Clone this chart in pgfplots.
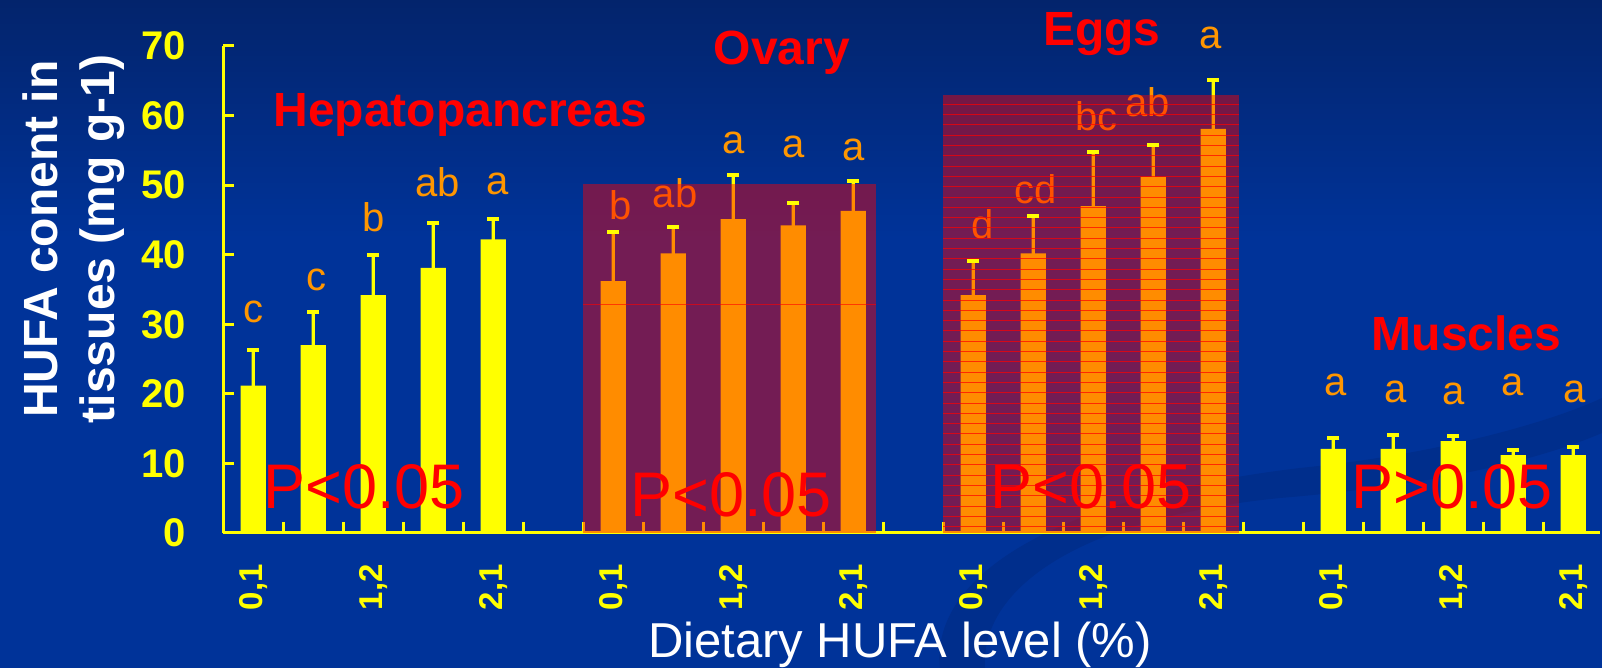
\documentclass[border=0pt]{standalone}
\usepackage{pgfplots}
\pgfplotsset{compat=1.18}
\usepackage{pgfplotstable}
\usepackage{fontspec}
\setmainfont{Liberation Sans}

\definecolor{bgtop}{RGB}{3,36,108}
\definecolor{bgbot}{RGB}{0,51,153}
\definecolor{baryellow}{RGB}{255,255,0}
\definecolor{lettor}{RGB}{255,150,0}
\definecolor{titlered}{RGB}{255,0,0}
\definecolor{swoosh}{RGB}{0,40,125}

\newcommand{\fs}[1]{\fontsize{#1}{#1}\selectfont}
\newcommand{\xtl}[1]{{\bfseries\fs{33}#1}}

% HUFA content (mg g-1): level index, mean, upper SD
\pgfplotstableread{
x  y    e
0  21.2 5.1
1  27.0 4.7
2  34.2 5.8
3  38.1 6.4
4  42.2 3.0
}\hepa
\pgfplotstableread{
x  y    e
6  36.2 7.0
7  40.2 3.8
8  45.1 6.4
9  44.2 3.3
10 46.3 4.3
}\ovary
\pgfplotstableread{
x  y    e
12 34.2 4.9
13 40.2 5.3
14 47.0 7.7
15 51.2 4.6
16 58.1 7.0
}\eggs
\pgfplotstableread{
x  y    e
18 12.1 1.6
19 12.1 2.0
20 13.2 0.7
21 11.2 0.7
22 11.2 1.2
}\muscles

\begin{document}
\begin{tikzpicture}[x=1pt,y=1pt]
\useasboundingbox (0,0) rectangle (1602,668);
\fill[bgbot] (0,0) rectangle (1602,668);
\shade[top color=bgtop, bottom color=bgbot] (0,430) rectangle (1602,668);
% faint background swoosh
\fill[swoosh, opacity=0.45] (940,0) .. controls (930,90) and (1050,170) .. (1300,200)
   .. controls (1450,215) and (1560,250) .. (1602,270) -- (1602,235)
   .. controls (1520,200) and (1400,180) .. (1280,170)
   .. controls (1080,150) and (980,80) .. (985,0) -- cycle;

% axis titles
\node[rotate=90, anchor=base, text=white, font=\bfseries\fs{48}] at (57,429) {HUFA conent in};
\node[rotate=90, anchor=base, text=white, font=\bfseries\fs{48}] at (114,429) {tissues (mg g-1)};
\node[anchor=base, text=white, font=\fs{49}] at (900,10) {Dietary HUFA level (\%)};

\begin{axis}[
  at={(253.3pt,135pt)}, anchor=origin,
  scale only axis, width=1377pt, height=487pt,
  xmin=-0.5, xmax=22.45, ymin=0, ymax=70,
  clip=false,
  axis x line*=bottom, axis y line*=left,
  axis line style={baryellow, line width=3pt},
  tick style={baryellow, line width=3pt},
  tick align=inside,
  major tick length=11pt, minor tick length=11pt,
  ytick={0,10,...,70},
  /pgf/number format/assume math mode=true,
  yticklabel style={text=baryellow, font=\bfseries\fs{40}, inner sep=0pt},
  yticklabel shift=37pt,
  xtick={0,2,...,22},
  xticklabels={{\xtl{0,1}},{\xtl{1,2}},{\xtl{2,1}},{\xtl{0,1}},{\xtl{1,2}},{\xtl{2,1}},
               {\xtl{0,1}},{\xtl{1,2}},{\xtl{2,1}},{\xtl{0,1}},{\xtl{1,2}},{\xtl{2,1}}},
  minor xtick={-0.5,0.5,...,21.5},
  major x tick style={draw=none},
  xticklabel style={rotate=90, anchor=east, inner sep=0pt, text=baryellow},
  xticklabel shift=31pt,
]
\pgfplotsset{
  tissuebar/.style={ybar, bar width=25.3pt, bar shift=0pt, fill=baryellow, draw=none},
  % SD stem: a narrow bar up to mean + SD, the wide bar hides its lower part
  sdstem/.style={forget plot, ybar, bar width=3.3pt, bar shift=0pt, fill=baryellow, draw=none},
  sdcap/.style={forget plot, only marks, mark=-, mark size=6pt,
    mark options={draw=baryellow, line width=4pt}}}
\addplot[tissuebar] table[x=x, y=y] {\hepa};
\addplot[tissuebar] table[x=x, y=y] {\ovary};
\addplot[tissuebar] table[x=x, y=y] {\eggs};
\addplot[tissuebar] table[x=x, y=y] {\muscles};
\addplot[sdstem] table[x=x, y expr=\thisrow{y}+\thisrow{e}] {\hepa};
\addplot[sdstem] table[x=x, y expr=\thisrow{y}+\thisrow{e}] {\ovary};
\addplot[sdstem] table[x=x, y expr=\thisrow{y}+\thisrow{e}] {\eggs};
\addplot[sdstem] table[x=x, y expr=\thisrow{y}+\thisrow{e}] {\muscles};
\addplot[sdcap] table[x=x, y expr=\thisrow{y}+\thisrow{e}] {\hepa};
\addplot[sdcap] table[x=x, y expr=\thisrow{y}+\thisrow{e}] {\ovary};
\addplot[sdcap] table[x=x, y expr=\thisrow{y}+\thisrow{e}] {\eggs};
\addplot[sdcap] table[x=x, y expr=\thisrow{y}+\thisrow{e}] {\muscles};

% significance letters
\tikzset{sig/.style={anchor=base, text=lettor, font=\fs{40}}}
\node[sig] at (axis cs:0,30.3) {c};
\node[sig] at (axis cs:1.05,34.9) {c};
\node[sig] at (axis cs:2.0,43.3) {b};
\node[sig] at (axis cs:3.07,48.4) {ab};
\node[sig] at (axis cs:4.07,48.7) {a};
\node[sig] at (axis cs:6.12,45.1) {b};
\node[sig] at (axis cs:7.03,46.8) {ab};
\node[sig] at (axis cs:8.0,54.6) {a};
\node[sig] at (axis cs:9.0,54.0) {a};
\node[sig] at (axis cs:10.0,53.5) {a};
\node[sig] at (axis cs:12.15,42.3) {d};
\node[sig] at (axis cs:13.04,47.3) {cd};
\node[sig] at (axis cs:14.05,57.9) {bc};
\node[sig] at (axis cs:14.91,59.8) {ab};
\node[sig] at (axis cs:15.96,69.6) {a};
\node[sig] at (axis cs:18.04,19.8) {a};
\node[sig] at (axis cs:19.03,18.7) {a};
\node[sig] at (axis cs:20.0,18.4) {a};
\node[sig] at (axis cs:20.98,19.7) {a};
\node[sig] at (axis cs:22.02,18.7) {a};

% highlighted tissue blocks
\fill[titlered, opacity=0.45] (axis cs:5.5,0) rectangle (axis cs:10.37,50.2);
\draw[titlered, line width=1pt, opacity=0.6] (axis cs:5.5,32.9) -- (axis cs:10.37,32.9);
\fill[titlered, opacity=0.45] (axis cs:11.5,0) rectangle (axis cs:16.42,63);
\pgfplotsinvokeforeach{0,...,41}{
  \draw[titlered, line width=1pt, opacity=0.7]
    (axis cs:11.5,{61.62-1.4806*#1}) -- (axis cs:16.42,{61.62-1.4806*#1});
}

% P values
\tikzset{pval/.style={anchor=base, text=titlered, font=\fs{63}}}
\node[pval] at (axis cs:1.85,3.45) {P<0.05};
\node[pval] at (axis cs:7.96,2.4) {P<0.05};
\node[pval] at (axis cs:13.96,3.45) {P<0.05};
\node[pval] at (axis cs:19.98,3.45) {P>0.05};

% tissue names
\tikzset{tissue/.style={anchor=base, text=titlered, font=\bfseries\fs{48}}}
\node[tissue] at (axis cs:3.45,58.5) {Hepatopancreas};
\node[tissue] at (axis cs:8.81,67.4) {Ovary};
\node[tissue] at (axis cs:14.14,70.1) {Eggs};
\node[tissue] at (axis cs:20.22,26.3) {Muscles};
\end{axis}
\end{tikzpicture}
\end{document}
